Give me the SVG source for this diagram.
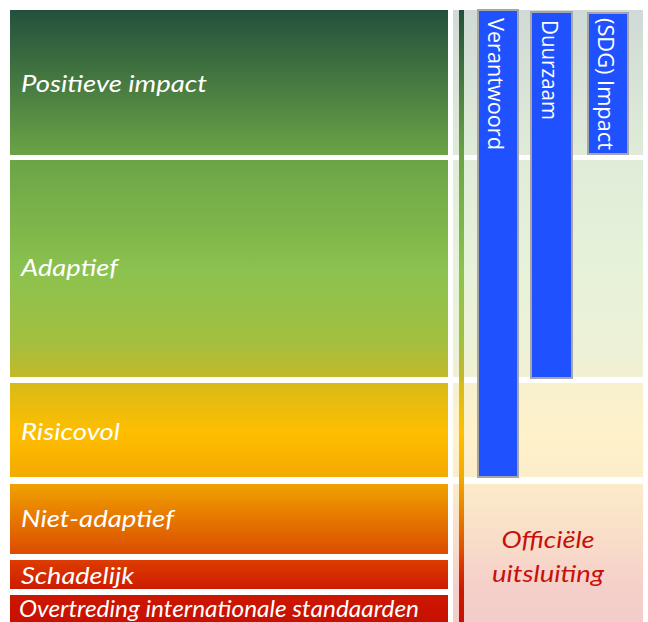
<svg xmlns="http://www.w3.org/2000/svg" width="648" height="622" viewBox="0 0 648 622">
<defs>
<linearGradient id="g" gradientUnits="userSpaceOnUse" x1="0" y1="10" x2="0" y2="622">
<stop offset="0" stop-color="#22503c"/>
<stop offset="0.237" stop-color="#6aa346"/>
<stop offset="0.43" stop-color="#8cc24e"/>
<stop offset="0.54" stop-color="#a3bf40"/>
<stop offset="0.60" stop-color="#c2b92a"/>
<stop offset="0.61" stop-color="#d8bb18"/>
<stop offset="0.69" stop-color="#ffbe00"/>
<stop offset="0.763" stop-color="#f2aa00"/>
<stop offset="0.775" stop-color="#f0a100"/>
<stop offset="0.889" stop-color="#dc4c00"/>
<stop offset="0.90" stop-color="#dc3c00"/>
<stop offset="0.95" stop-color="#cc1800"/>
<stop offset="1" stop-color="#c81000"/>
</linearGradient>
<style>
.band{fill:url(#g)}
.pale{fill:url(#g);opacity:0.21}
.lbl{font-family:Lato,"Open Sans",sans-serif;font-style:italic;font-size:23px;fill:#ffffff}
.red{font-family:Lato,"Open Sans",sans-serif;font-style:italic;font-size:23px;fill:#c8100c}
.bar{fill:#2051ff;stroke:#a6a6a6;stroke-width:2}
.bt{font-family:"Open Sans","DejaVu Sans",sans-serif;font-size:21.5px;fill:#ffffff}
</style>
</defs>
<rect width="648" height="622" fill="#ffffff"/>
<g id="bands">
<g id="positieve-impact"><rect class="band" x="10" y="10" width="438" height="145"/><text class="lbl" x="21" y="92" textLength="186" lengthAdjust="spacingAndGlyphs">Positieve impact</text></g>
<g id="adaptief"><rect class="band" x="10" y="160" width="438" height="217"/><text class="lbl" x="21" y="276" textLength="97" lengthAdjust="spacingAndGlyphs">Adaptief</text></g>
<g id="risicovol"><rect class="band" x="10" y="383" width="438" height="94"/><text class="lbl" x="21" y="440" textLength="99" lengthAdjust="spacingAndGlyphs">Risicovol</text></g>
<g id="niet-adaptief"><rect class="band" x="10" y="484" width="438" height="70"/><text class="lbl" x="21" y="527" textLength="153" lengthAdjust="spacingAndGlyphs">Niet-adaptief</text></g>
<g id="schadelijk"><rect class="band" x="10" y="560" width="438" height="29"/><text class="lbl" x="21" y="584" textLength="113" lengthAdjust="spacingAndGlyphs">Schadelijk</text></g>
<g id="overtreding"><rect class="band" x="10" y="595" width="438" height="27"/><text class="lbl" x="19" y="617" textLength="400" lengthAdjust="spacingAndGlyphs">Overtreding internationale standaarden</text></g>
</g>
<g id="right-panel">
<rect class="pale" x="453" y="10" width="190" height="145"/>
<rect class="pale" x="453" y="160" width="190" height="217"/>
<rect class="pale" x="453" y="383" width="190" height="94"/>
<rect class="pale" x="453" y="484" width="190" height="138"/>
</g>
<g id="connectors">
<rect class="band" x="459" y="10" width="5" height="612"/>
</g>
<g id="verantwoord"><rect class="bar" x="478" y="10" width="40" height="467"/><text class="bt" transform="translate(488,18) rotate(90)" textLength="132" lengthAdjust="spacingAndGlyphs">Verantwoord</text></g>
<g id="duurzaam"><rect class="bar" x="531" y="12" width="41" height="366"/><text class="bt" transform="translate(542,20) rotate(90)" textLength="100" lengthAdjust="spacingAndGlyphs">Duurzaam</text></g>
<g id="sdg-impact"><rect class="bar" x="588" y="13" width="40" height="141"/><text class="bt" transform="translate(598,18) rotate(90)" textLength="132" lengthAdjust="spacingAndGlyphs">(SDG) Impact</text></g>
<g id="officiele-uitsluiting">
<text class="red" x="548" y="548" text-anchor="middle" textLength="93" lengthAdjust="spacingAndGlyphs">Officiële</text>
<text class="red" x="548" y="582" text-anchor="middle" textLength="112" lengthAdjust="spacingAndGlyphs">uitsluiting</text>
</g>
</svg>
